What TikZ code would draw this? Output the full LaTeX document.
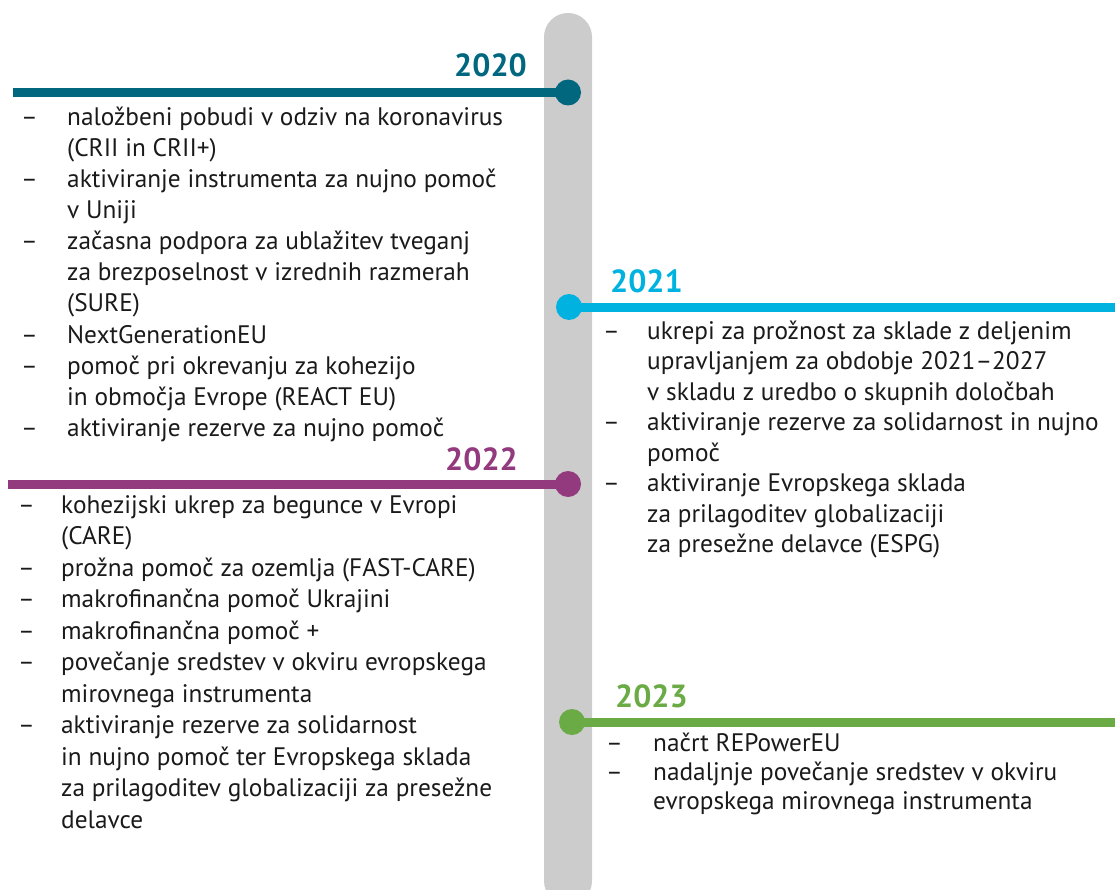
\documentclass[tikz,border=0pt]{standalone}
\usepackage{fontspec}
\setmainfont{PT Sans}
\definecolor{cbar}{HTML}{CCCCCC}
\definecolor{c20}{HTML}{00677F}
\definecolor{c21}{HTML}{00B2E0}
\definecolor{c22}{HTML}{933A7E}
\definecolor{c23}{HTML}{6AAB46}
\definecolor{ctext}{HTML}{1A1A1A}
\tikzset{
  txt/.style={anchor=base west, inner sep=0pt, text=ctext, font=\fontsize{25.3}{30}\selectfont},
  dashmark/.style={anchor=base west, inner sep=0pt, text=ctext, font=\fontsize{25.3}{30}\selectfont},
  yearR/.style={anchor=base east, inner sep=0pt, font=\fontsize{32}{38}\selectfont\bfseries},
  yearL/.style={anchor=base west, inner sep=0pt, font=\fontsize{32}{38}\selectfont\bfseries},
  dot/.style={circle, inner sep=0pt, minimum size=26pt},
  yline/.style={line width=9pt},
}
\begin{document}
\begin{tikzpicture}[x=1pt,y=-1pt]
\useasboundingbox (0,0) rectangle (1115,890);
\clip (0,0) rectangle (1115,890);
% central bar
\fill[cbar, rounded corners=24pt] (544,13) rectangle (592,905);

% 2020
\coordinate (s20) at (13,92.5);
\coordinate (c20) at (568,92.5);
\draw[yline, c20] (s20) -- (c20);
\node[dot, fill=c20] (d20) at (c20) {};
\node[yearR, text=c20] (y20) at (527,77) {2020};
\node[dashmark] (m20a) at (21,126) {–};
\node[txt] (t20a) at (67,126) {naložbeni pobudi v odziv na koronavirus};
\node[txt] (t20b) at (67,157) {(CRII in CRII+)};
\node[dashmark] (m20c) at (21,188) {–};
\node[txt] (t20c) at (67,188) {aktiviranje instrumenta za nujno pomoč};
\node[txt] (t20d) at (67,219) {v Uniji};
\node[dashmark] (m20e) at (21,250) {–};
\node[txt] (t20e) at (67,250) {začasna podpora za ublažitev tveganj};
\node[txt] (t20f) at (67,281) {za brezposelnost v izrednih razmerah};
\node[txt] (t20g) at (67,312) {(SURE)};
\node[dashmark] (m20h) at (21,343) {–};
\node[txt] (t20h) at (67,343) {NextGenerationEU};
\node[dashmark] (m20i) at (21,374) {–};
\node[txt] (t20i) at (67,374) {pomoč pri okrevanju za kohezijo};
\node[txt] (t20j) at (67,405) {in območja Evrope (REACT EU)};
\node[dashmark] (m20k) at (21,436) {–};
\node[txt] (t20k) at (67,436) {aktiviranje rezerve za nujno pomoč};

% 2021
\coordinate (c21) at (569,307);
\coordinate (e21) at (1115,307);
\draw[yline, c21] (c21) -- (e21);
\node[dot, fill=c21] (d21) at (c21) {};
\node[yearL, text=c21] (y21) at (610,293) {2021};
\node[dashmark] (m21a) at (603,339) {–};
\node[txt] (t21a) at (647,339) {ukrepi za prožnost za sklade z deljenim};
\node[txt] (t21b) at (647,369.5) {upravljanjem za obdobje 2021–2027};
\node[txt] (t21c) at (647,400) {v skladu z uredbo o skupnih določbah};
\node[dashmark] (m21d) at (603,430.5) {–};
\node[txt] (t21d) at (647,430.5) {aktiviranje rezerve za solidarnost in nujno};
\node[txt] (t21e) at (647,461) {pomoč};
\node[dashmark] (m21f) at (603,491.5) {–};
\node[txt] (t21f) at (647,491.5) {aktiviranje Evropskega sklada};
\node[txt] (t21g) at (647,522) {za prilagoditev globalizaciji};
\node[txt] (t21h) at (647,552.5) {za presežne delavce (ESPG)};

% 2022
\coordinate (s22) at (8,484);
\coordinate (c22) at (568,484);
\draw[yline, c22] (s22) -- (c22);
\node[dot, fill=c22] (d22) at (c22) {};
\node[yearR, text=c22] (y22) at (518,470) {2022};
\node[dashmark] (m22a) at (18,513) {–};
\node[txt] (t22a) at (61,513) {kohezijski ukrep za begunce v Evropi};
\node[txt] (t22b) at (61,544.5) {(CARE)};
\node[dashmark] (m22c) at (18,576) {–};
\node[txt] (t22c) at (61,576) {prožna pomoč za ozemlja (FAST-CARE)};
\node[dashmark] (m22d) at (18,607.5) {–};
\node[txt] (t22d) at (61,607.5) {makrofinančna pomoč Ukrajini};
\node[dashmark] (m22e) at (18,639) {–};
\node[txt] (t22e) at (61,639) {makrofinančna pomoč +};
\node[dashmark] (m22f) at (18,670.5) {–};
\node[txt] (t22f) at (61,670.5) {povečanje sredstev v okviru evropskega};
\node[txt] (t22g) at (61,702) {mirovnega instrumenta};
\node[dashmark] (m22h) at (18,733.5) {–};
\node[txt] (t22h) at (61,733.5) {aktiviranje rezerve za solidarnost};
\node[txt] (t22i) at (61,765) {in nujno pomoč ter Evropskega sklada};
\node[txt] (t22j) at (61,796.5) {za prilagoditev globalizaciji za presežne};
\node[txt] (t22k) at (61,828) {delavce};

% 2023
\coordinate (c23) at (572,722);
\coordinate (e23) at (1115,722);
\draw[yline, c23] (c23) -- (e23);
\node[dot, fill=c23] (d23) at (c23) {};
\node[yearL, text=c23] (y23) at (615,707) {2023};
\node[dashmark] (m23a) at (606,751) {–};
\node[txt] (t23a) at (653,751) {načrt REPowerEU};
\node[dashmark] (m23b) at (606,780) {–};
\node[txt] (t23b) at (653,780) {nadaljnje povečanje sredstev v okviru};
\node[txt] (t23c) at (653,809) {evropskega mirovnega instrumenta};
\end{tikzpicture}
\end{document}
